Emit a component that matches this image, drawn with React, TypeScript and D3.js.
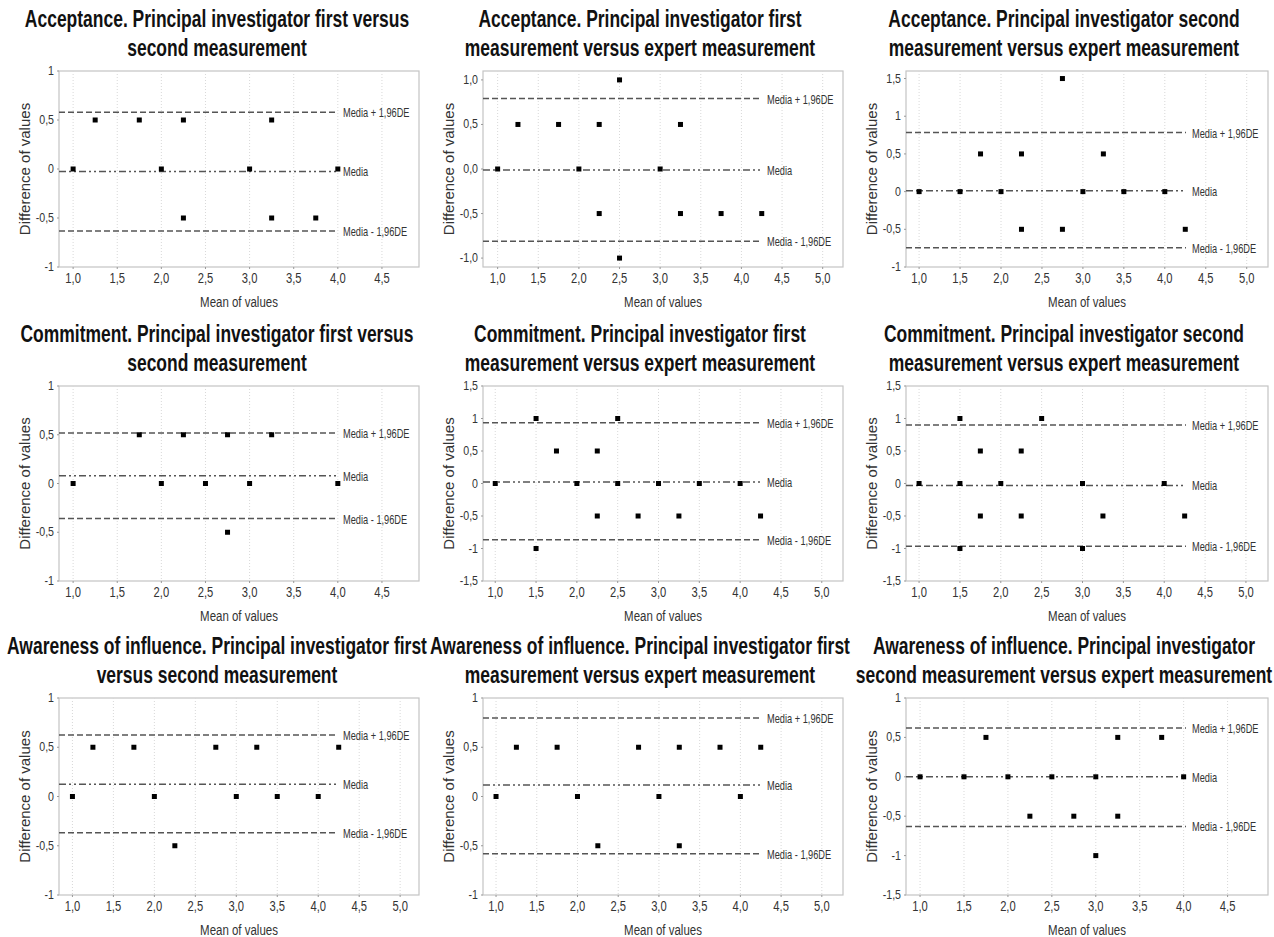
import React from "react";
import * as d3 from "d3";

// ---------- data ----------
const titles: [string, string][] = [
  ["Acceptance. Principal investigator first versus", "second measurement"],
  ["Acceptance. Principal investigator first", "measurement versus expert measurement"],
  ["Acceptance. Principal investigator second", "measurement versus expert measurement"],
  ["Commitment. Principal investigator first versus", "second measurement"],
  ["Commitment. Principal investigator first", "measurement versus expert measurement"],
  ["Commitment. Principal investigator second", "measurement versus expert measurement"],
  ["Awareness of influence. Principal investigator first", "versus second measurement"],
  ["Awareness of influence. Principal investigator first", "measurement versus expert measurement"],
  ["Awareness of influence. Principal investigator", "second measurement versus expert measurement"],
];

const acc1X = [1, 1.25, 1.75, 2, 2.25, 2.25, 3, 3.25, 3.25, 3.75, 4];
const acc1Y = [0, 0.5, 0.5, 0, 0.5, -0.5, 0, 0.5, -0.5, -0.5, 0];
const acc2X = [1, 1.25, 1.75, 2, 2.25, 2.25, 2.5, 2.5, 3, 3.25, 3.25, 3.75, 4.25];
const acc2Y = [0, 0.5, 0.5, 0, 0.5, -0.5, 1, -1, 0, 0.5, -0.5, -0.5, -0.5];
const acc3X = [1, 1.5, 1.75, 2, 2.25, 2.25, 2.75, 2.75, 3, 3.25, 3.5, 4, 4.25];
const acc3Y = [0, 0, 0.5, 0, 0.5, -0.5, 1.5, -0.5, 0, 0.5, 0, 0, -0.5];
const com1X = [1, 1.75, 2, 2.25, 2.5, 2.75, 2.75, 3, 3.25, 4];
const com1Y = [0, 0.5, 0, 0.5, 0, 0.5, -0.5, 0, 0.5, 0];
const com2X = [1, 1.5, 1.5, 1.75, 2, 2.25, 2.25, 2.5, 2.5, 2.75, 3, 3.25, 3.5, 4, 4.25];
const com2Y = [0, 1, -1, 0.5, 0, 0.5, -0.5, 1, 0, -0.5, 0, -0.5, 0, 0, -0.5];
const com3X = [1, 1.5, 1.5, 1.5, 1.75, 1.75, 2, 2.25, 2.25, 2.5, 3, 3, 3.25, 4, 4.25];
const com3Y = [0, 1, 0, -1, 0.5, -0.5, 0, 0.5, -0.5, 1, 0, -1, -0.5, 0, -0.5];
const awa1X = [1, 1.25, 1.75, 2, 2.25, 2.75, 3, 3.25, 3.5, 4, 4.25];
const awa1Y = [0, 0.5, 0.5, 0, -0.5, 0.5, 0, 0.5, 0, 0, 0.5];
const awa2X = [1, 1.25, 1.75, 2, 2.25, 2.75, 3, 3.25, 3.25, 3.75, 4, 4.25];
const awa2Y = [0, 0.5, 0.5, 0, -0.5, 0.5, 0, 0.5, -0.5, 0.5, 0, 0.5];
const awa3X = [1, 1.5, 1.75, 2, 2.25, 2.5, 2.75, 3, 3, 3.25, 3.25, 3.75, 4];
const awa3Y = [0, 0, 0.5, 0, -0.5, 0, -0.5, 0, -1, 0.5, -0.5, 0.5, 0];

const seriesX = [acc1X, acc2X, acc3X, com1X, com2X, com3X, awa1X, awa2X, awa3X];
const seriesY = [acc1Y, acc2Y, acc3Y, com1Y, com2Y, com3Y, awa1Y, awa2Y, awa3Y];

const meanDiff = [-0.025, -0.01, 0.01, 0.08, 0.025, -0.03, 0.125, 0.118, 0.0];
const upperLimit = [0.578, 0.79, 0.783, 0.517, 0.934, 0.9, 0.625, 0.797, 0.618];
const lowerLimit = [-0.632, -0.81, -0.743, -0.36, -0.867, -0.965, -0.368, -0.58, -0.63];

const yDomains: [number, number][] = [
  [-1, 1], [-1.1, 1.1], [-1, 1.6],
  [-1, 1], [-1.5, 1.5], [-1.5, 1.5],
  [-1, 1], [-1, 1], [-1.5, 1],
];
const xDomains: [number, number][] = [
  [0.84, 4.92], [0.82, 5.25], [0.84, 5.26],
  [0.84, 4.92], [0.85, 5.26], [0.84, 5.27],
  [0.836, 5.23], [0.84, 5.26], [0.84, 4.96],
];

const yTicksA = [-1, -0.5, 0, 0.5, 1];
const yTicksB = [-1, -0.5, 0, 0.5, 1, 1.5];
const yTicksC = [-1.5, -1, -0.5, 0, 0.5, 1, 1.5];
const yTicksD = [-1.5, -1, -0.5, 0, 0.5, 1];
const yTickLabelsA = ["-1", "-0,5", "0", "0,5", "1"];
const yTickLabelsA1 = ["-1,0", "-0,5", "0,0", "0,5", "1,0"];
const yTickLabelsB = ["-1", "-0,5", "0", "0,5", "1", "1,5"];
const yTickLabelsC = ["-1,5", "-1", "-0,5", "0", "0,5", "1", "1,5"];
const yTickLabelsD = ["-1,5", "-1", "-0,5", "0", "0,5", "1"];
const yTicks = [yTicksA, yTicksA, yTicksB, yTicksA, yTicksC, yTicksC, yTicksA, yTicksA, yTicksD];
const yTickLabels = [yTickLabelsA, yTickLabelsA1, yTickLabelsB, yTickLabelsA, yTickLabelsC, yTickLabelsC, yTickLabelsA, yTickLabelsA, yTickLabelsD];

const xTicks45 = [1, 1.5, 2, 2.5, 3, 3.5, 4, 4.5];
const xTicks50 = [1, 1.5, 2, 2.5, 3, 3.5, 4, 4.5, 5];
const xTickLabels45 = ["1,0", "1,5", "2,0", "2,5", "3,0", "3,5", "4,0", "4,5"];
const xTickLabels50 = ["1,0", "1,5", "2,0", "2,5", "3,0", "3,5", "4,0", "4,5", "5,0"];
const xTicks = [xTicks45, xTicks50, xTicks50, xTicks45, xTicks50, xTicks50, xTicks50, xTicks50, xTicks45];
const xTickLabels = [xTickLabels45, xTickLabels50, xTickLabels50, xTickLabels45, xTickLabels50, xTickLabels50, xTickLabels50, xTickLabels50, xTickLabels45];

const lineLabels = ["Media + 1,96DE", "Media", "Media - 1,96DE"];
const xAxisTitle = "Mean of values";
const yAxisTitle = "Difference of values";

// ---------- layout ----------
const W = 1274;
const H = 937;
const rowTop = [71, 386, 698];
const rowBottom = [267, 581, 895];
const colLeft = [59, 483, 906];
const colRight = [419, 843, 1268];
const titleCenter = [217, 640, 1064];
const FONT = "'Liberation Sans', Arial, Helvetica, sans-serif";

type TProps = {
  x: number; y: number; k?: number; size: number; weight?: string | number;
  anchor?: string; fill?: string; rotate?: number; children: React.ReactNode;
};
const T = ({ x, y, k = 1, size, weight = "normal", anchor = "start", fill = "#333", rotate, children }: TProps) => (
  <text
    transform={`translate(${x},${y})${rotate ? ` rotate(${rotate})` : ""} scale(${k},1)`}
    fontSize={size}
    fontWeight={weight}
    textAnchor={anchor as any}
    fill={fill}
    fontFamily={FONT}
  >
    {children}
  </text>
);

function Panel({ i }: { i: number }) {
  const r = Math.floor(i / 3);
  const c = i % 3;
  const top = rowTop[r];
  const bottom = rowBottom[r];
  const left = colLeft[c];
  const right = colRight[c];
  const x = d3.scaleLinear().domain(xDomains[i]).range([left, right]);
  const y = d3.scaleLinear().domain(yDomains[i]).range([bottom, top]);
  const lineEnd = right - 82;
  const refs = [
    { v: upperLimit[i], dash: "6,3", label: lineLabels[0] },
    { v: meanDiff[i], dash: "7,3,2,3,2,3", label: lineLabels[1] },
    { v: lowerLimit[i], dash: "6,3", label: lineLabels[2] },
  ];
  const cx = (left + right) / 2;
  const cy = (top + bottom) / 2;
  return (
    <g>
      <T x={titleCenter[c]} y={top - 44} k={0.76} size={23} weight="bold" anchor="middle" fill="#111">
        {titles[i][0]}
      </T>
      <T x={titleCenter[c]} y={top - 15} k={0.76} size={23} weight="bold" anchor="middle" fill="#111">
        {titles[i][1]}
      </T>
      <rect x={left} y={top} width={right - left} height={bottom - top} fill="#fff" stroke="#c4c4c4" strokeWidth={1.2} />
      {xTicks[i].map((t, j) => (
        <g key={"xt" + j}>
          <line x1={x(t)} x2={x(t)} y1={top} y2={bottom} stroke="#d8d8d8" strokeWidth={1} strokeDasharray="1,2" />
          <line x1={x(t)} x2={x(t)} y1={bottom} y2={bottom + 2} stroke="#999" />
          <T x={x(t)} y={bottom + 16} k={0.8} size={14} anchor="middle" fill="#333">
            {xTickLabels[i][j]}
          </T>
        </g>
      ))}
      {yTicks[i].map((t, j) => (
        <g key={"yt" + j}>
          <line x1={left - 2} x2={left} y1={y(t)} y2={y(t)} stroke="#999" />
          <T x={left - 5} y={y(t) + 4} k={0.85} size={12.5} anchor="end" fill="#333">
            {yTickLabels[i][j]}
          </T>
        </g>
      ))}
      {refs.map((ref, j) => (
        <g key={"ref" + j}>
          <line x1={left} x2={lineEnd} y1={y(ref.v)} y2={y(ref.v)} stroke="#555" strokeWidth={1.5} strokeDasharray={ref.dash} />
          <T x={lineEnd + 6} y={y(ref.v) + 5} k={0.74} size={12.5} fill="#333">
            {ref.label}
          </T>
        </g>
      ))}
      {seriesX[i].map((xv, j) => (
        <rect key={"p" + j} x={x(xv) - 2.5} y={y(seriesY[i][j]) - 2.5} width={5} height={5} fill="#000" />
      ))}
      <T x={cx} y={bottom + 40} k={0.82} size={14} anchor="middle" fill="#333">
        {xAxisTitle}
      </T>
      <T x={left - 29} y={cy} k={1} size={15} anchor="middle" fill="#333" rotate={-90}>
        {yAxisTitle}
      </T>
    </g>
  );
}

export default function App() {
  return (
    <svg
      width={W}
      height={H}
      viewBox={`0 0 ${W} ${H}`}
      style={{ position: "absolute", left: 0, top: 0, background: "#fff" }}
    >
      <rect x={0} y={0} width={W} height={H} fill="#fff" />
      {d3.range(9).map((i) => (
        <Panel key={i} i={i} />
      ))}
    </svg>
  );
}
